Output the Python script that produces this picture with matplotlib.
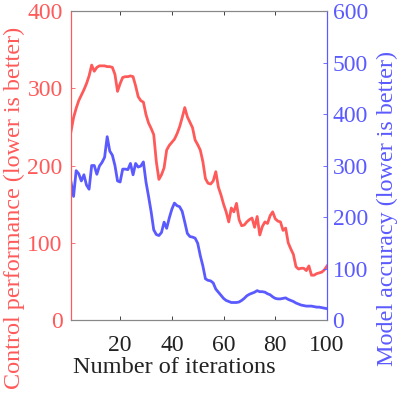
import matplotlib
matplotlib.use("Agg")
import matplotlib.pyplot as plt
import numpy as np

iterations = list(range(1, 101))
control_perf = [244, 262, 274, 284, 291, 298, 306, 316, 330, 322,
                327, 329, 329, 329, 328, 328, 327, 318, 296, 306,
                314, 315, 315, 316, 315, 303, 289, 284, 282, 266,
                255, 248, 240, 205, 182, 188, 197, 220, 226, 230,
                234, 241, 250, 262, 275, 263, 256, 249, 233, 227,
                220, 205, 183, 177, 176, 180, 192, 172, 162, 150,
                140, 127, 145, 140, 151, 130, 122, 123, 127, 130,
                132, 120, 134, 110, 121, 127, 125, 135, 140, 131,
                128, 127, 116, 119, 100, 92, 85, 69, 66, 67,
                67, 64, 70, 58, 58, 60, 61, 62, 65, 70]
model_acc = [268, 240, 290, 284, 270, 282, 262, 254, 300, 300,
             283, 299, 306, 316, 356, 328, 320, 300, 270, 268,
             293, 293, 292, 304, 282, 304, 297, 299, 307, 268,
             240, 210, 175, 166, 164, 170, 190, 178, 198, 215,
             227, 222, 220, 211, 190, 168, 162, 161, 159, 149,
             125, 105, 80, 77, 76, 72, 60, 54, 48, 42,
             38, 36, 34, 34, 34, 35, 38, 42, 47, 50,
             52, 54, 57, 55, 55, 54, 51, 49, 45, 42,
             41, 41, 42, 43, 40, 38, 36, 33, 31, 29,
             28, 27, 27, 27, 26, 25, 25, 24, 23, 22]
x_ticks = [20, 40, 60, 80, 100]
left_ticks = [0, 100, 200, 300, 400]
right_ticks = [0, 100, 200, 300, 400, 500, 600]

red = "#ff5a5a"
blue = "#5a5aff"
plt.rcParams['font.family'] = ['Liberation Serif', 'DejaVu Serif']

fig = plt.figure(figsize=(4.04, 3.96), dpi=100)
ax = fig.add_axes([0.1757, 0.1919, 0.6337, 0.7803])
ax2 = ax.twinx()

ax.plot(iterations, control_perf, color=red, lw=2)
ax2.plot(iterations, model_acc, color=blue, lw=2)

ax.set_xlim(1, 100)
ax.set_ylim(0, 400)
ax2.set_ylim(0, 600)
ax.set_xticks(x_ticks)
ax.set_yticks(left_ticks)
ax2.set_yticks(right_ticks)

fs_tick = 17
ax.tick_params(axis='x', direction='in', length=3, colors='#222222', labelsize=fs_tick, top=True, pad=10.5, width=0.6)
ax.tick_params(axis='y', direction='in', length=3, colors=red, labelsize=fs_tick, width=0.6, pad=6)
ax2.tick_params(axis='y', direction='in', length=3, colors=blue, labelsize=fs_tick, width=0.6, pad=4)

for a in (ax, ax2):
    a.spines['top'].set_color('#888888')
    a.spines['bottom'].set_color('#888888')
    a.spines['left'].set_color(red)
    a.spines['right'].set_color(blue)
    for s in a.spines.values():
        s.set_linewidth(0.8)

ax.set_xlabel("Number of iterations", fontsize=17.5, color='#222222')
ax.set_ylabel("Control performance (lower is better)", fontsize=17.4, color=red)
ax2.set_ylabel("Model accuracy (lower is better)", fontsize=17.4, color=blue)

fig.canvas.draw()
ax.xaxis.set_label_coords(0.402, -0.12)
ax.yaxis.set_label_coords(-0.18, 0.362)
ax2.yaxis.set_label_coords(1.195, 0.362)

fig.savefig("out.png", dpi=100)
